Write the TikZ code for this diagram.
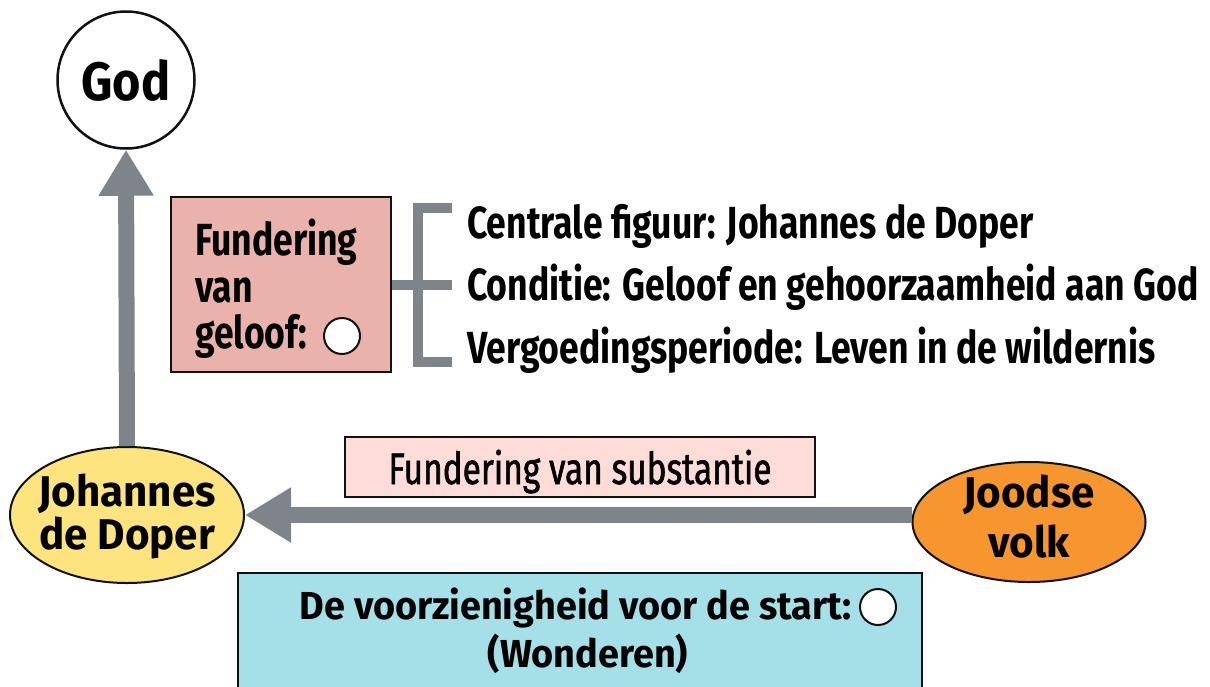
\documentclass[tikz,border=0pt]{standalone}
\usepackage{fontspec}
\setmainfont{Fira Sans}[FakeStretch=0.79]
\newfontfamily\ovalfont{Fira Sans}[FakeStretch=0.98]
\newfontfamily\godfont{Fira Sans}[FakeStretch=0.9]
\newfontfamily\startfont{Fira Sans}[FakeStretch=0.97]
\newfontfamily\substfont{Fira Sans}[FakeStretch=0.76, FakeBold=1.3]
\usetikzlibrary{shapes.geometric,arrows.meta}
\definecolor{arrgray}{HTML}{7E848A}
\definecolor{jyellow}{HTML}{FDE47F}
\definecolor{jorange}{HTML}{F7962E}
\definecolor{geloofpink}{HTML}{E9B3AB}
\definecolor{substpink}{HTML}{FEDCD8}
\definecolor{startblue}{HTML}{A5DFE8}
\definecolor{inkblack}{HTML}{111111}
\tikzset{
  bigarrow/.style={draw=arrgray, line width=16pt, -{Triangle[width=52pt,length=46pt]}, arrgray},
  oval/.style={ellipse, draw=inkblack, line width=2pt, minimum width=234pt, inner sep=0pt},
  boxshape/.style={rectangle, draw=inkblack, line width=2pt, inner sep=0pt},
  txt/.style={inner sep=0pt, font=\fontsize{45}{45}\selectfont\bfseries},
  ovaltxt/.style={inner sep=0pt, font=\ovalfont\fontsize{43}{43}\selectfont\bfseries},
  starttxt/.style={inner sep=0pt, font=\startfont\fontsize{39}{39}\selectfont\bfseries},
  mark circle/.style={circle, draw=inkblack, line width=2pt, fill=white, minimum size=36pt, inner sep=0pt},
  brack/.style={draw=arrgray, line width=10pt, line join=miter}
}
\begin{document}
\begin{tikzpicture}[x=1pt,y=-1pt]
\useasboundingbox (0,0) rectangle (1210,686);

% God
\node[circle, draw=inkblack, line width=2.5pt, fill=white, minimum size=137pt, inner sep=0pt] (god) at (126,80) {};
\node[inner sep=0pt, anchor=base, font=\godfont\fontsize{54}{54}\selectfont\bfseries] (godtxt) at (126,100) {God};

% Johannes de Doper
\node[oval, fill=jyellow, minimum height=136pt] (jdp) at (127,515) {};
\node[ovaltxt, anchor=base] (jdp1) at (127,506) {Johannes};
\node[ovaltxt, anchor=base] (jdp2) at (127,549) {de Doper};

% Joodse volk
\node[oval, fill=jorange, minimum height=120pt, minimum width=233pt] (jv) at (1029,522) {};
\node[ovaltxt, anchor=base] (jv1) at (1029,507) {Joodse};
\node[ovaltxt, anchor=base] (jv2) at (1029,557) {volk};

% arrows
\draw[bigarrow] (jdp.north) -- (god.south);
\draw[bigarrow] (jv.west |- jdp.east) -- (jdp.east);

% Fundering van geloof
\node[boxshape, fill=geloofpink, minimum width=220pt, minimum height=175pt] (fg) at (281,284.5) {};
\node[txt, anchor=base west] (fg1) at (195,255) {Fundering};
\node[txt, anchor=base west] (fg2) at (195,302) {van};
\node[txt, anchor=base west] (fg3) at (195,348) {geloof:};
\node[mark circle] (c1) at (342,336) {};

% bracket
\coordinate (bt) at (452,208);
\coordinate (bb) at (452,362);
\coordinate (bm) at (452,285);
\draw[brack] (bt) -- (418,208) -- (418,362) -- (bb);
\draw[brack] (fg.east |- bm) -- (bm);

% list
\node[txt, anchor=base west] (l1) at (467,238) {Centrale figuur: Johannes de Doper};
\node[txt, anchor=base west] (l2) at (467,300) {Conditie: Geloof en gehoorzaamheid aan God};
\node[txt, anchor=base west] (l3) at (467,363) {Vergoedingsperiode: Leven in de wildernis};

% Fundering van substantie
\node[boxshape, line width=1.5pt, fill=substpink, minimum width=470pt, minimum height=60pt] (fs) at (580,467) {};
\node[inner sep=0pt, anchor=base, font=\substfont\fontsize{44}{44}\selectfont] (fstxt) at (580,484) {Fundering van substantie};

% bottom box
\node[boxshape, fill=startblue, minimum width=684pt, minimum height=124pt] (start) at (580,635) {};
\node[starttxt, anchor=base east] (st1) at (852,619) {De voorzienigheid voor de start:};
\node[mark circle] (c2) at (878,607) {};
\node[starttxt, anchor=base] (st2) at (588,667) {(Wonderen)};
\end{tikzpicture}
\end{document}
